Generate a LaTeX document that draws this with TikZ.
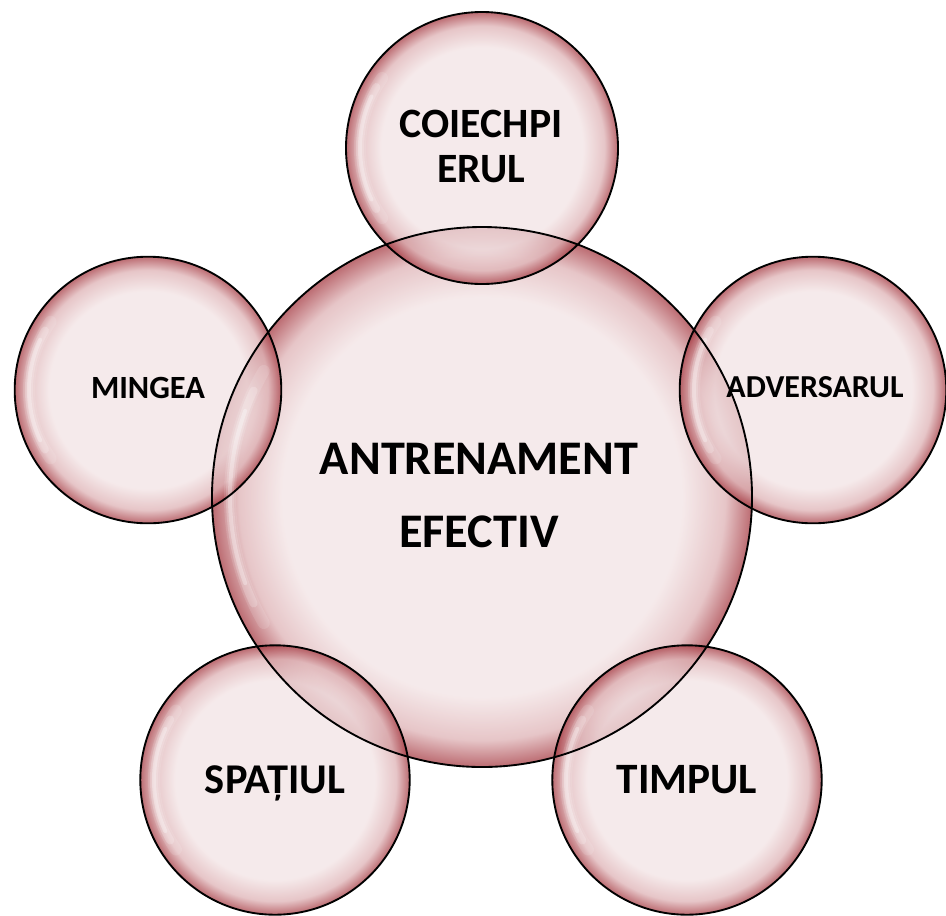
\documentclass[tikz,border=0pt]{standalone}
\usepackage{fontspec}
\setmainfont{Carlito}
\definecolor{bubin}{RGB}{242,227,228}
\definecolor{bubmid}{RGB}{222,178,181}
\definecolor{bubrim}{RGB}{165,58,66}
\pgfdeclareradialshading{bubbleshade}{\pgfpoint{0bp}{0bp}}{color(0bp)=(bubin); color(18.5bp)=(bubin); color(22.5bp)=(bubmid); color(25bp)=(bubrim); color(50bp)=(bubrim)}
\tikzset{
  bubble/.style={circle, inner sep=0pt, shading=bubbleshade, fill opacity=0.75},
  rim/.style={draw=black, line width=1.4pt},
  gloss/.style={draw=white, line cap=round},
  lbl/.style={inner sep=0pt, align=center, text=black, font=\bfseries}
}
\begin{document}
\begin{tikzpicture}[x=0.75pt, y=-0.75pt]
\useasboundingbox (0,0) rectangle (946,915);
% bubbles
\node[bubble, minimum size=405pt] (c) at (482,497) {};
\node[bubble, minimum size=204pt] (t) at (482,148) {};
\node[bubble, minimum size=200pt] (l) at (148,390) {};
\node[bubble, minimum size=200pt] (r) at (813,390) {};
\node[bubble, minimum size=202pt] (bl) at (275,780) {};
\node[bubble, minimum size=202pt] (br) at (687,780) {};
% gloss highlights
\foreach \n/\rr/\a/\b in {c/252/150/210, t/122/145/215, l/119/145/215, r/119/145/215, bl/121/145/215, br/121/145/215}{
  \draw[gloss, line width=9pt, opacity=0.12] (\n.center) ++(\a:\rr) arc[start angle=\a, end angle=\b, radius=\rr];
  \draw[gloss, line width=6pt, opacity=0.2] (\n.center) ++(\a+5:\rr) arc[start angle=\a+5, end angle=\b-5, radius=\rr];
  \draw[gloss, line width=3pt, opacity=0.3] (\n.center) ++(\a+10:\rr) arc[start angle=\a+10, end angle=\b-10, radius=\rr];
}
% outlines
\draw[rim] (c.center) circle[radius=270];
\draw[rim] (t.center) circle[radius=136];
\draw[rim] (l.center) circle[radius=133.3];
\draw[rim] (r.center) circle[radius=133.3];
\draw[rim] (bl.center) circle[radius=134.7];
\draw[rim] (br.center) circle[radius=134.7];
% labels
\node[lbl, font=\bfseries\fontsize{36.2}{54.75}\selectfont] (tc) at (479,496) {ANTRENAMENT\\EFECTIV};
\node[lbl, font=\bfseries\fontsize{31.3}{33.75}\selectfont] (tt) at (481,146) {COIECHPI\\ERUL};
\node[lbl, font=\bfseries\fontsize{24.3}{26}\selectfont] (tl) at (148,388) {MINGEA};
\node[lbl, font=\bfseries\fontsize{24}{26}\selectfont] (tr) at (815,387.5) {ADVERSARUL};
\node[lbl, font=\bfseries\fontsize{31.8}{34}\selectfont, anchor=base] (tbl) at (275,793) {SPAȚIUL};
\node[lbl, font=\bfseries\fontsize{32.5}{34}\selectfont] (tbr) at (687,780) {TIMPUL};
\end{tikzpicture}
\end{document}
